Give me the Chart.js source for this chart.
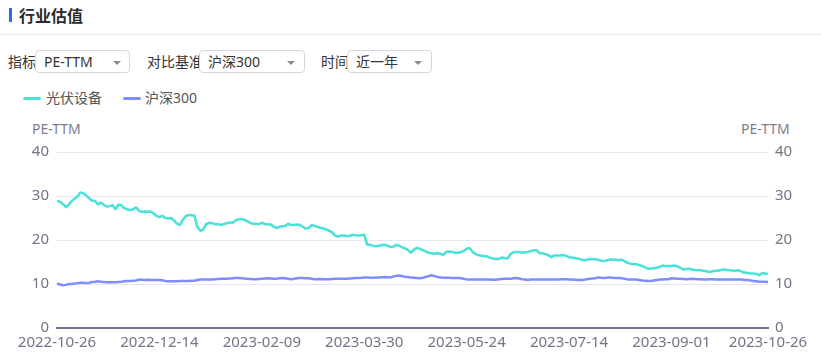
<!DOCTYPE html>
<html>
<head>
<meta charset="utf-8">
<script src="https://cdn.jsdelivr.net/npm/chart.js@4/dist/chart.umd.min.js"></script>
<style>
  html, body { margin: 0; padding: 0; background: #fff; }
  body { width: 821px; height: 361px; position: relative; overflow: hidden;
         font-family: "Noto Sans", "Noto Sans CJK SC", sans-serif; color: #333; }
  .abs { position: absolute; white-space: nowrap; }
  .bar { left: 9px; top: 8px; width: 3px; height: 14px; background: #2f6bf0; }
  .title { left: 19px; top: 3px; font-size: 16px; font-weight: bold; color: #2b2b2b; line-height: 24px;
           font-family: "Noto Sans CJK SC", sans-serif; }
  .sep { left: 0; top: 34px; width: 821px; height: 1px; background: #ebebf3; }
  .lbl { font-size: 14px; line-height: 24px; top: 50px; color: #333; }
  .box { top: 50px; height: 21px; border: 1px solid #d6d6e4; border-radius: 4px; background: #fff; }
  .box span { position: absolute; left: 8px; top: 0; font-size: 14px; line-height: 21px; color: #333; }
  .caret { position: absolute; top: 10px; width: 0; height: 0;
           border-left: 4px solid transparent; border-right: 4px solid transparent; border-top: 4px solid #8a8a9a; }
  .leg { top: 88px; font-size: 14px; line-height: 20px; color: #555; }
  .mk { top: 97px; width: 18px; height: 3px; border-radius: 2px; }
  .axt { top: 119px; font-size: 14px; line-height: 20px; color: #7d7d8f; }
  #wrap { position: absolute; left: 0; top: 110px; width: 821px; height: 251px; }
</style>
</head>
<body>
<div class="abs bar"></div>
<div class="abs title">行业估值</div>
<div class="abs sep"></div>

<div class="abs lbl" style="left:8px;">指标</div>
<div class="abs box" style="left:35px;width:93px;"><span>PE-TTM</span><i class="caret" style="left:77px;"></i></div>
<div class="abs lbl" style="left:147px;">对比基准</div>
<div class="abs box" style="left:199px;width:104px;"><span>沪深300</span><i class="caret" style="left:87px;"></i></div>
<div class="abs lbl" style="left:321px;">时间</div>
<div class="abs box" style="left:347px;width:83px;"><span>近一年</span><i class="caret" style="left:66px;"></i></div>

<div class="abs mk" id="mk1" style="left:23px;"></div>
<div class="abs leg" id="lg1" style="left:46px;"></div>
<div class="abs mk" id="mk2" style="left:123px;"></div>
<div class="abs leg" id="lg2" style="left:145px;"></div>

<div class="abs axt" style="left:32px;">PE-TTM</div>
<div class="abs axt" style="left:741px;">PE-TTM</div>

<div id="wrap"><canvas id="c" width="821" height="251"></canvas></div>

<script>
// ---------- data ----------
const seriesNames = ['光伏设备', '沪深300'];
const seriesColors = ['#48e2d8', '#7e8eff'];

const dates = [
'2022-10-26','2022-10-27','2022-10-28','2022-10-31',
'2022-11-01','2022-11-02','2022-11-03','2022-11-04','2022-11-07','2022-11-08','2022-11-09','2022-11-10','2022-11-11','2022-11-14','2022-11-15','2022-11-16','2022-11-17','2022-11-18','2022-11-21','2022-11-22','2022-11-23','2022-11-24','2022-11-25','2022-11-28','2022-11-29','2022-11-30',
'2022-12-01','2022-12-02','2022-12-05','2022-12-06','2022-12-07','2022-12-08','2022-12-09','2022-12-12','2022-12-13','2022-12-14','2022-12-15','2022-12-16','2022-12-19','2022-12-20','2022-12-21','2022-12-22','2022-12-23','2022-12-26','2022-12-27','2022-12-28','2022-12-29','2022-12-30',
'2023-01-03','2023-01-04','2023-01-05','2023-01-06','2023-01-09','2023-01-10','2023-01-11','2023-01-12','2023-01-13','2023-01-16','2023-01-17','2023-01-18','2023-01-19','2023-01-20','2023-01-30','2023-01-31',
'2023-02-01','2023-02-02','2023-02-03','2023-02-06','2023-02-07','2023-02-08','2023-02-09','2023-02-10','2023-02-13','2023-02-14','2023-02-15','2023-02-16','2023-02-17','2023-02-20','2023-02-21','2023-02-22','2023-02-23','2023-02-24','2023-02-27','2023-02-28',
'2023-03-01','2023-03-02','2023-03-03','2023-03-06','2023-03-07','2023-03-08','2023-03-09','2023-03-10','2023-03-13','2023-03-14','2023-03-15','2023-03-16','2023-03-17','2023-03-20','2023-03-21','2023-03-22','2023-03-23','2023-03-24','2023-03-27','2023-03-28','2023-03-29','2023-03-30','2023-03-31',
'2023-04-03','2023-04-04','2023-04-06','2023-04-07','2023-04-10','2023-04-11','2023-04-12','2023-04-13','2023-04-14','2023-04-17','2023-04-18','2023-04-19','2023-04-20','2023-04-21','2023-04-24','2023-04-25','2023-04-26','2023-04-27','2023-04-28',
'2023-05-04','2023-05-05','2023-05-08','2023-05-09','2023-05-10','2023-05-11','2023-05-12','2023-05-15','2023-05-16','2023-05-17','2023-05-18','2023-05-19','2023-05-22','2023-05-23','2023-05-24','2023-05-25','2023-05-26','2023-05-29','2023-05-30','2023-05-31',
'2023-06-01','2023-06-02','2023-06-05','2023-06-06','2023-06-07','2023-06-08','2023-06-09','2023-06-12','2023-06-13','2023-06-14','2023-06-15','2023-06-16','2023-06-19','2023-06-20','2023-06-21','2023-06-26','2023-06-27','2023-06-28','2023-06-29','2023-06-30',
'2023-07-03','2023-07-04','2023-07-05','2023-07-06','2023-07-07','2023-07-10','2023-07-11','2023-07-12','2023-07-13','2023-07-14','2023-07-17','2023-07-18','2023-07-19','2023-07-20','2023-07-21','2023-07-24','2023-07-25','2023-07-26','2023-07-27','2023-07-28','2023-07-31',
'2023-08-01','2023-08-02','2023-08-03','2023-08-04','2023-08-07','2023-08-08','2023-08-09','2023-08-10','2023-08-11','2023-08-14','2023-08-15','2023-08-16','2023-08-17','2023-08-18','2023-08-21','2023-08-22','2023-08-23','2023-08-24','2023-08-25','2023-08-28','2023-08-29','2023-08-30','2023-08-31',
'2023-09-01','2023-09-04','2023-09-05','2023-09-06','2023-09-07','2023-09-08','2023-09-11','2023-09-12','2023-09-13','2023-09-14','2023-09-15','2023-09-18','2023-09-19','2023-09-20','2023-09-21','2023-09-22','2023-09-25','2023-09-26','2023-09-27','2023-09-28',
'2023-10-09','2023-10-10','2023-10-11','2023-10-12','2023-10-13','2023-10-16','2023-10-17','2023-10-18','2023-10-19','2023-10-20','2023-10-23','2023-10-24','2023-10-25','2023-10-26'
];

const pvEquipment = [
28.9,28.7,28.2,27.5,28.0,28.8,29.4,29.9,30.8,30.6,30.1,29.5,28.9,28.9,28.1,28.5,28.0,27.6,27.7,27.9,
27.0,28.0,27.9,27.2,27.0,26.8,27.0,27.4,26.7,26.4,26.5,26.4,26.5,26.0,25.5,25.2,25.5,25.0,24.9,25.0,
24.4,23.7,23.4,24.6,25.4,25.7,25.6,25.5,22.9,22.1,22.4,23.6,23.9,23.8,23.6,23.6,23.4,23.6,23.8,24.0,
23.9,24.4,24.7,24.8,24.6,24.3,23.9,23.7,23.7,23.6,23.9,23.6,23.6,23.5,23.1,22.7,23.0,23.1,23.2,23.7,
23.4,23.4,23.5,23.4,23.0,22.6,22.7,23.4,23.2,23.0,22.8,22.6,22.4,22.1,21.8,21.0,20.8,21.0,21.0,20.9,
20.9,21.2,21.1,21.0,21.1,21.2,19.0,18.9,18.7,18.6,18.7,18.8,18.9,18.7,18.4,18.5,18.9,18.7,18.3,18.1,
17.7,17.1,17.8,18.2,18.0,17.7,17.4,17.1,17.0,16.9,17.0,16.9,16.6,17.3,17.4,17.3,17.1,17.1,17.2,17.5,
18.0,18.2,17.3,16.8,16.6,16.4,16.3,16.3,16.0,15.8,15.7,15.7,16.0,15.9,15.8,16.8,17.2,17.3,17.3,17.1,
17.2,17.3,17.5,17.7,17.6,17.0,17.0,16.8,16.5,16.1,16.5,16.5,16.5,16.6,16.4,16.1,16.0,15.9,15.8,15.6,
15.4,15.5,15.6,15.6,15.6,15.5,15.3,15.2,15.4,15.6,15.5,15.5,15.4,15.5,15.2,14.8,14.6,14.5,14.5,14.3,
14.1,13.8,13.4,13.5,13.6,13.7,13.9,14.2,14.1,14.1,14.1,14.2,14.0,13.7,13.3,13.4,13.5,13.3,13.2,13.1,
13.1,13.0,12.9,12.7,12.9,13.0,13.0,13.2,13.3,13.2,13.1,13.0,13.0,13.1,12.8,12.6,12.5,12.4,12.4,12.3,
12.0,12.5,12.4,12.3
];

const csi300 = [
10.1,9.9,9.7,9.8,10.0,10.0,10.1,10.2,10.3,10.3,10.2,10.3,10.45,10.5,10.6,10.5,10.45,10.4,10.4,10.4,
10.4,10.45,10.5,10.6,10.7,10.7,10.75,10.8,11.0,10.95,10.9,10.95,10.9,10.9,10.9,10.9,10.85,10.7,10.6,10.6,
10.6,10.65,10.7,10.7,10.7,10.7,10.75,10.75,10.9,11.0,11.0,11.05,11.05,11.05,11.1,11.15,11.2,11.2,11.2,11.25,
11.3,11.35,11.35,11.3,11.25,11.2,11.15,11.1,11.1,11.15,11.2,11.25,11.3,11.25,11.2,11.2,11.3,11.35,11.3,11.2,
11.1,11.2,11.3,11.35,11.35,11.3,11.3,11.2,11.1,11.1,11.15,11.1,11.1,11.1,11.15,11.2,11.2,11.2,11.2,11.2,
11.25,11.3,11.35,11.35,11.4,11.5,11.45,11.4,11.4,11.45,11.5,11.55,11.6,11.55,11.5,11.7,11.85,11.9,11.8,11.6,
11.6,11.45,11.4,11.35,11.3,11.4,11.6,11.8,12.0,11.8,11.6,11.5,11.4,11.4,11.4,11.35,11.35,11.35,11.3,11.2,
11.05,11.05,11.05,11.0,11.0,11.0,11.05,11.05,11.0,10.95,10.95,11.1,11.15,11.2,11.2,11.2,11.3,11.35,11.25,11.1,
11.0,10.9,11.0,11.05,11.05,11.05,11.0,11.0,11.05,11.05,11.0,11.05,11.1,11.1,11.1,11.05,11.0,10.95,10.9,10.9,
10.95,11.1,11.2,11.25,11.3,11.5,11.4,11.35,11.45,11.5,11.4,11.35,11.35,11.3,11.2,11.05,11.05,11.0,11.0,10.9,
10.8,10.75,10.7,10.7,10.8,10.9,11.0,11.05,11.1,11.1,11.3,11.25,11.2,11.2,11.15,11.1,11.15,11.2,11.15,11.1,
11.1,11.05,11.05,11.1,11.1,11.05,11.05,11.05,11.05,11.0,11.0,11.0,11.05,11.05,11.0,10.9,10.9,10.8,10.7,10.6,
10.5,10.5,10.5,10.45
];

const tickDates = ['2022-10-26','2022-12-14','2023-02-09','2023-03-30','2023-05-24','2023-07-14','2023-09-01','2023-10-26'];
const yTicks = [0, 10, 20, 30, 40];

// ---------- legend ----------
document.getElementById('mk1').style.background = seriesColors[0];
document.getElementById('mk2').style.background = seriesColors[1];
document.getElementById('lg1').textContent = seriesNames[0];
document.getElementById('lg2').textContent = seriesNames[1];

// ---------- chart ----------
const FONT = '"Noto Sans", "Noto Sans CJK SC", sans-serif';
const tickFont = { family: FONT, size: 15 };
const tickColor = '#747486';

new Chart(document.getElementById('c'), {
  type: 'line',
  data: {
    labels: dates,
    datasets: [
      { label: seriesNames[0], data: pvEquipment, borderColor: seriesColors[0], backgroundColor: seriesColors[0],
        borderWidth: 2.5, pointRadius: 0, tension: 0, yAxisID: 'y', borderJoinStyle: 'round' },
      { label: seriesNames[1], data: csi300, borderColor: seriesColors[1], backgroundColor: seriesColors[1],
        borderWidth: 2.5, pointRadius: 0, tension: 0, yAxisID: 'y', borderJoinStyle: 'round' }
    ]
  },
  options: {
    responsive: false,
    animation: false,
    devicePixelRatio: 1,
    layout: { padding: { top: 42, left: 0, right: 0, bottom: 0 } },
    plugins: { legend: { display: false }, tooltip: { enabled: false } },
    scales: {
      x: {
        type: 'category',
        offset: false,
        grid: { display: false, drawTicks: false },
        border: { display: true, color: '#6f6f8f', width: 2 },
        ticks: {
          autoSkip: false, maxRotation: 0, minRotation: 0, padding: 6,
          color: tickColor, font: tickFont,
          callback: function (v, i) { const d = dates[i]; return tickDates.includes(d) ? d : null; }
        },
        afterFit: function (s) { s.height = 33; }
      },
      y: {
        position: 'left', min: 0, max: 40,
        afterBuildTicks: function (s) { s.ticks = yTicks.map(v => ({ value: v })); },
        grid: { color: ctx => ctx.tick && ctx.tick.value === 0 ? 'rgba(0,0,0,0)' : '#e7e7f2', lineWidth: 1, drawTicks: false },
        border: { display: false },
        ticks: { padding: 8, color: tickColor, font: tickFont },
        afterFit: function (s) { s.width = 57; }
      },
      y2: {
        position: 'right', min: 0, max: 40,
        afterBuildTicks: function (s) { s.ticks = yTicks.map(v => ({ value: v })); },
        grid: { display: false, drawTicks: false },
        border: { display: false },
        ticks: { padding: 7, color: tickColor, font: tickFont },
        afterFit: function (s) { s.width = 53; }
      }
    }
  }
});
</script>
</body>
</html>
